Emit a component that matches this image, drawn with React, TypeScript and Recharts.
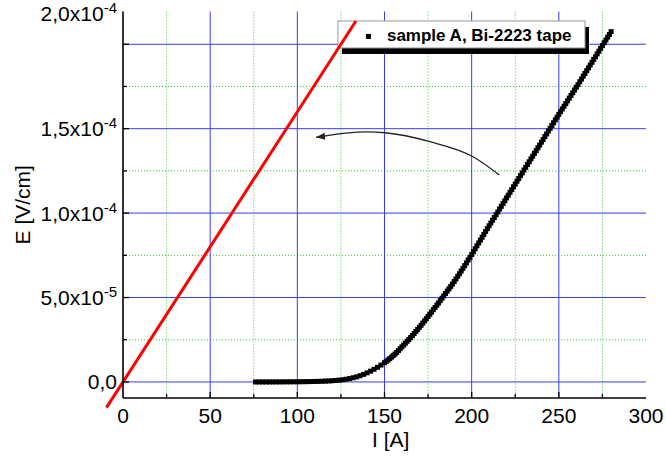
import React from "react";
import {
  ComposedChart,
  Scatter,
  Line,
  XAxis,
  YAxis,
  CartesianGrid,
  ReferenceLine,
  ReferenceArea,
} from "recharts";

// measured E(I) points, E in units of 1e-5 V/cm
const currentA = [
  76, 78, 80, 82, 84, 86, 88, 90, 92, 94, 96, 98, 100, 102, 104, 106, 108, 110,
  112, 114, 116, 118, 120, 122, 124, 126, 128, 130, 132, 134, 136, 138, 140,
  142, 144, 146, 148, 150, 151, 152, 153, 154, 155, 156, 157, 158, 159, 160,
  161, 162, 163, 164, 165, 166, 167, 168, 169, 170, 171, 172, 173, 174, 175,
  176, 177, 178, 179, 180, 181, 182, 183, 184, 185, 186, 187, 188, 189, 190,
  191, 192, 193, 194, 195, 196, 197, 198, 199, 200, 201, 202, 203, 204, 205,
  206, 207, 208, 209, 210, 211, 212, 213, 214, 215, 216, 217, 218, 219, 220,
  221, 222, 223, 224, 225, 226, 227, 228, 229, 230, 231, 232, 233, 234, 235,
  236, 237, 238, 239, 240, 241, 242, 243, 244, 245, 246, 247, 248, 249, 250,
  251, 252, 253, 254, 255, 256, 257, 258, 259, 260, 261, 262, 263, 264, 265,
  266, 267, 268, 269, 270, 271, 272, 273, 274, 275, 276, 277, 278, 279, 280,
];
const fieldE = [
  0.0, 0.0, 0.001, 0.001, 0.002, 0.002, 0.003, 0.004, 0.005, 0.006, 0.008,
  0.01, 0.012, 0.014, 0.017, 0.02, 0.024, 0.029, 0.035, 0.042, 0.05, 0.06,
  0.072, 0.088, 0.108, 0.132, 0.162, 0.2, 0.25, 0.3, 0.37, 0.45, 0.54, 0.64,
  0.75, 0.87, 1.0, 1.14, 1.22, 1.3, 1.38, 1.47, 1.56, 1.65, 1.75, 1.86, 1.97,
  2.08, 2.19, 2.3, 2.41, 2.52, 2.63, 2.75, 2.87, 2.99, 3.11, 3.24, 3.36, 3.49,
  3.62, 3.75, 3.88, 4.01, 4.14, 4.28, 4.41, 4.55, 4.68, 4.82, 4.96, 5.1, 5.24,
  5.38, 5.52, 5.66, 5.8, 5.95, 6.1, 6.26, 6.41, 6.57, 6.73, 6.89, 7.05, 7.22,
  7.38, 7.55, 7.72, 7.89, 8.06, 8.23, 8.4, 8.57, 8.74, 8.91, 9.08, 9.25, 9.41,
  9.58, 9.74, 9.91, 10.07, 10.24, 10.4, 10.57, 10.73, 10.9, 11.06, 11.23,
  11.39, 11.56, 11.72, 11.89, 12.05, 12.22, 12.38, 12.55, 12.71, 12.88, 13.04,
  13.21, 13.37, 13.54, 13.7, 13.87, 14.03, 14.2, 14.36, 14.53, 14.69, 14.86,
  15.02, 15.19, 15.35, 15.52, 15.68, 15.85, 16.01, 16.17, 16.33, 16.49, 16.65,
  16.81, 16.97, 17.13, 17.29, 17.45, 17.61, 17.78, 17.94, 18.11, 18.27, 18.44,
  18.6, 18.77, 18.93, 19.1, 19.26, 19.43, 19.59, 19.76, 19.92, 20.09, 20.25,
  20.42, 20.58, 20.75,
];

// red reference line (ends)
const redI = [-9.5, 133.6];
const redE = [-1.52, 21.38];

// curved arrow, tip first
const arrowI = [110.7, 139.8, 150.3, 176.1, 200.8, 215.9];
const arrowE = [14.49, 14.81, 14.76, 14.23, 13.34, 12.26];

// legend box corners in data units
const legendI = [123.3, 265.0];
const legendE = [19.78, 21.38];
const legendText = "sample A, Bi-2223 tape";

const X_DOMAIN: [number, number] = [0, 300];
const Y_TOP = 21.94;
const Y_DOMAIN: [number, number] = [-0.95, Y_TOP];

const xTicks = [0, 25, 50, 75, 100, 125, 150, 175, 200, 225, 250, 275, 300];
const xMajor = [50, 100, 150, 200, 250];
const xMinor = [25, 75, 125, 175, 225, 275];
const yTicks = [0, 2.5, 5, 7.5, 10, 12.5, 15, 17.5, 20, Y_TOP];
const yMajor = [0, 5, 10, 15, 20];
const yMinor = [2.5, 7.5, 12.5, 17.5];
const yLabels: Record<string, [string, string]> = {
  "0": ["0,0", ""],
  "5": ["5,0x10", "-5"],
  "10": ["1,0x10", "-4"],
  "15": ["1,5x10", "-4"],
  [String(Y_TOP)]: ["2,0x10", "-4"],
};

const points = currentA.map((i, k) => ({ i, e: fieldE[k] }));
const arrowPoints = arrowI.map((i, k) => ({ i, e: arrowE[k] }));
const arrowTip = [arrowPoints[0]];

const FONT = "'Liberation Sans', Arial, sans-serif";

const isEdgeX = (v: number) => v <= 0 || v >= 300;

const BottomTick = (props: any) => {
  const { x, y, payload } = props;
  const v = payload.value as number;
  const major = v % 50 === 0;
  return (
    <g>
      {!isEdgeX(v) && (
        <line x1={x} x2={x} y1={y} y2={y - (major ? 6 : 4)} stroke="#000" strokeWidth={1.3} />
      )}
      {major && (
        <text x={x} y={y + 25} textAnchor="middle" fontSize={21} fontFamily={FONT} fill="#000">
          {v}
        </text>
      )}
    </g>
  );
};

const TopTick = (props: any) => {
  const { x, y, payload } = props;
  const v = payload.value as number;
  if (isEdgeX(v)) return <g />;
  const major = v % 50 === 0;
  return <line x1={x} x2={x} y1={y} y2={y + (major ? 6 : 4)} stroke="#000" strokeWidth={1.3} />;
};

const LeftTick = (props: any) => {
  const { x, y, payload } = props;
  const v = payload.value as number;
  const major = yMajor.includes(v);
  const label = yLabels[String(v)];
  const showLine = v !== Y_TOP;
  return (
    <g>
      {showLine && (
        <line x1={x} x2={x + (major ? 6 : 4)} y1={y} y2={y} stroke="#000" strokeWidth={1.3} />
      )}
      {label && (
        <text
          x={x - 6}
          y={v === Y_TOP ? y + 9 : y + 7.5}
          textAnchor="end"
          fontSize={21}
          fontFamily={FONT}
          fill="#000"
        >
          {label[0]}
          {label[1] && (
            <tspan fontSize={15} dy={-8}>
              {label[1]}
            </tspan>
          )}
        </text>
      )}
    </g>
  );
};

const RightTick = (props: any) => {
  const { x, y, payload } = props;
  const v = payload.value as number;
  if (v === Y_TOP) return <g />;
  const major = yMajor.includes(v);
  return <line x1={x} x2={x - (major ? 6 : 4)} y1={y} y2={y} stroke="#000" strokeWidth={1.3} />;
};

const SquareDot = (props: any) => {
  const { cx, cy } = props;
  return <rect x={cx - 2.5} y={cy - 2.5} width={5} height={5} fill="#000" />;
};

const ArrowHead = (props: any) => {
  const { cx, cy } = props;
  return (
    <polygon
      points={`${cx},${cy} ${cx + 9},${cy - 3.5} ${cx + 9},${cy + 3.5}`}
      fill="#222"
      transform={`rotate(-6 ${cx} ${cy})`}
    />
  );
};

const LegendBox = (props: any) => {
  const { x, y, width, height } = props;
  return (
    <g>
      <rect x={x + 4} y={y + 6} width={width} height={height} fill="#000" />
      <rect x={x} y={y} width={width} height={height} fill="#fff" stroke="#999" strokeWidth={1} />
      <rect x={x + 28} y={y + 13} width={5} height={5} fill="#000" />
      <text
        x={x + 49}
        y={y + 20.5}
        fontSize={17}
        fontWeight="bold"
        fontFamily={FONT}
        fill="#000"
      >
        {legendText}
      </text>
    </g>
  );
};

const axisLine = { stroke: "#000", strokeWidth: 1.6 };

export default function App() {
  return (
    <div
      style={{
        position: "absolute",
        left: 0,
        top: 0,
        width: 666,
        height: 465,
        background: "#fff",
        fontFamily: FONT,
      }}
    >
      <ComposedChart
        width={666}
        height={465}
        margin={{ top: 11.5, right: 20, bottom: 0, left: 0 }}
      >
        <CartesianGrid
          verticalValues={xMinor}
          horizontalValues={yMinor}
          stroke="#33cc33"
          strokeDasharray="1 2"
          strokeWidth={1}
        />
        <CartesianGrid
          verticalValues={xMajor}
          horizontalValues={yMajor}
          stroke="#3a3aff"
          strokeWidth={1}
        />
        <XAxis
          dataKey="i"
          type="number"
          domain={X_DOMAIN}
          ticks={xTicks}
          interval={0}
          allowDataOverflow
          height={67}
          tickSize={0}
          tickMargin={0}
          tickLine={false}
          axisLine={axisLine}
          tick={<BottomTick />}
        />
        <XAxis
          xAxisId="top"
          orientation="top"
          dataKey="i"
          type="number"
          domain={X_DOMAIN}
          ticks={xTicks}
          interval={0}
          allowDataOverflow
          height={0}
          tickSize={0}
          tickMargin={0}
          tickLine={false}
          axisLine={axisLine}
          tick={<TopTick />}
        />
        <YAxis
          dataKey="e"
          type="number"
          domain={Y_DOMAIN}
          ticks={yTicks}
          interval={0}
          allowDataOverflow
          width={123}
          tickSize={0}
          tickMargin={0}
          tickLine={false}
          axisLine={axisLine}
          tick={<LeftTick />}
          label={{
            value: "E  [V/cm]",
            angle: -90,
            position: "insideLeft",
            offset: 23,
            style: { fontSize: 21, fontFamily: FONT, fill: "#000", textAnchor: "middle", whiteSpace: "pre" },
          }}
        />
        <YAxis
          yAxisId="right"
          orientation="right"
          dataKey="e"
          type="number"
          domain={Y_DOMAIN}
          ticks={yTicks}
          interval={0}
          allowDataOverflow
          width={0}
          tickSize={0}
          tickMargin={0}
          tickLine={false}
          axisLine={axisLine}
          tick={<RightTick />}
        />
        <ReferenceArea
          x1={legendI[0]}
          x2={legendI[1]}
          y1={legendE[0]}
          y2={legendE[1]}
          ifOverflow="visible"
          shape={<LegendBox />}
        />
        <ReferenceLine
          segment={[
            { x: redI[0], y: redE[0] },
            { x: redI[1], y: redE[1] },
          ]}
          stroke="#ff0000"
          strokeWidth={3}
          ifOverflow="visible"
        />
        <Line
          data={arrowPoints}
          dataKey="e"
          type="monotone"
          stroke="#222"
          strokeWidth={1.3}
          dot={false}
          activeDot={false}
          isAnimationActive={false}
        />
        <Scatter data={arrowTip} shape={<ArrowHead />} isAnimationActive={false} />
        <Scatter data={points} shape={<SquareDot />} isAnimationActive={false} />
      </ComposedChart>
      <div
        style={{
          position: "absolute",
          left: 372,
          top: 428,
          fontSize: 21,
          color: "#000",
          whiteSpace: "nowrap",
        }}
      >
        I [A]
      </div>
    </div>
  );
}
